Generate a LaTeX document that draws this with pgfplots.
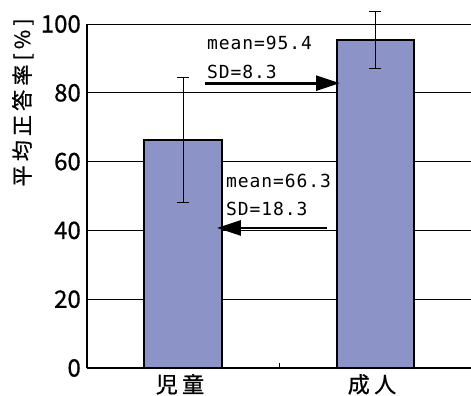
\documentclass[border=0pt]{standalone}
\usepackage{fontspec}
\setmainfont{Noto Sans CJK JP}[FakeBold=0.8]
\newfontfamily\tickfont[FakeBold=0.8]{Noto Sans CJK JP}
\newfontfamily\labelfont[LetterSpace=20,FakeBold=0.8]{Noto Sans CJK JP}
\newfontfamily\notefont[LetterSpace=5]{DejaVu Sans Mono}
\usepackage{pgfplots}
\pgfplotsset{compat=1.18}
\usetikzlibrary{arrows.meta}
\definecolor{barblue}{HTML}{8B93C7}

\begin{document}
\begin{tikzpicture}
\begin{axis}[
  at={(0,0)}, anchor=south west,
  scale only axis, width=384pt, height=344pt,
  xmin=-0.5, xmax=1.5, ymin=0, ymax=100,
  clip=false,
  axis x line=bottom, axis y line=left,
  axis line style={line width=1.8pt, -},
  /pgf/number format/assume math mode=true,
  ytick={0,20,...,100},
  ymajorgrids, grid style={black, line width=0.9pt},
  ytick style={draw=none},
  xtick={0,1}, xticklabels={児童,成人},
  minor xtick={0.5},
  major x tick style={draw=none},
  minor x tick style={black, line width=0.9pt},
  tick align=inside, minor tick length=5pt,
  yticklabel style={font=\tickfont\fontsize{24}{24}\selectfont, inner sep=0pt, xshift=-6pt},
  xticklabel style={font=\labelfont\fontsize{22}{22}\selectfont, inner sep=0pt, yshift=-6pt, xshift=-3pt},
  ylabel={平均正答率[\%]},
  ylabel style={at={(axis description cs:-0.167,0.772)}, anchor=center,
    font=\labelfont\fontsize{21}{21}\selectfont},
]
% mean scores with SD error bars
\addplot[ybar, bar width=77pt, fill=barblue, draw=black, line width=2pt,
  error bars/.cd, y dir=both, y explicit,
  error bar style={black, line width=0.9pt},
  error mark options={rotate=90, mark size=6pt, line width=0.9pt, black}]
  coordinates {(0,66.3) +- (0,18.3) (1,95.4) +- (0,8.3)};

% arrows pointing to each bar
\addplot[line width=2.8pt, -{Triangle[length=24pt,width=15pt]}]
  coordinates {(0.1146,82.8) (0.8177,82.8)};
\addplot[line width=2.8pt, -{Triangle[length=24pt,width=15pt]}]
  coordinates {(0.748,40.7) (0.177,40.7)};

\node[anchor=base west, font=\notefont\fontsize{18}{18}\selectfont, inner sep=0pt]
  at (axis cs:0.125,92.7) {mean=95.4};
\node[anchor=base west, font=\notefont\fontsize{18}{18}\selectfont, inner sep=0pt]
  at (axis cs:0.125,84.3) {SD=8.3};
\node[anchor=base west, font=\notefont\fontsize{18}{18}\selectfont, inner sep=0pt]
  at (axis cs:0.224,52.6) {mean=66.3};
\node[anchor=base west, font=\notefont\fontsize{18}{18}\selectfont, inner sep=0pt]
  at (axis cs:0.224,44.2) {SD=18.3};
\end{axis}
\pgfresetboundingbox
\path (-87pt,-28pt) rectangle (384pt,368pt);
\end{tikzpicture}
\end{document}
